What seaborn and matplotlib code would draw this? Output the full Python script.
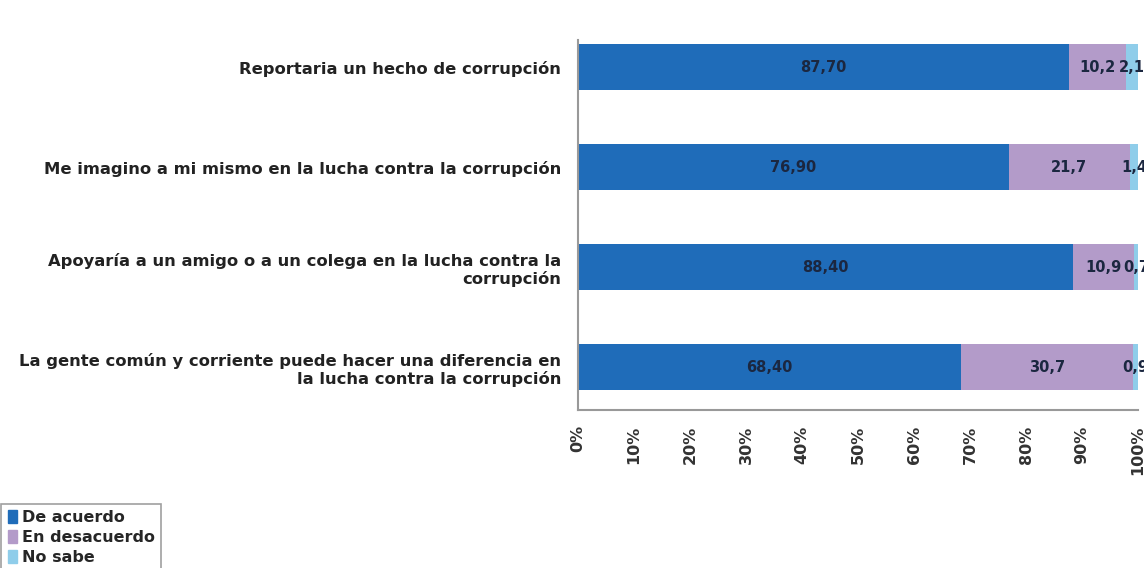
import matplotlib
matplotlib.use("Agg")
import matplotlib.pyplot as plt
import matplotlib.patches as mpatches
import pandas as pd
import seaborn as sns

# Data
categories = [
    "Reportaria un hecho de corrupción",
    "Me imagino a mi mismo en la lucha contra la corrupción",
    "Apoyaría a un amigo o a un colega en la lucha contra la\ncorrupción",
    "La gente común y corriente puede hacer una diferencia en\nla lucha contra la corrupción",
]
de_acuerdo = [87.70, 76.90, 88.40, 68.40]
en_desacuerdo = [10.2, 21.7, 10.9, 30.7]
no_sabe = [2.1, 1.4, 0.7, 0.9]
series_names = ["De acuerdo", "En desacuerdo", "No sabe"]
xtick_labels = [f"{v}%" for v in range(0, 101, 10)]

colors = ["#1f6cb9", "#b39bc9", "#8fcdea"]

df = pd.DataFrame({"cat": categories, "a": de_acuerdo, "b": en_desacuerdo, "c": no_sabe})
df["ab"] = df["a"] + df["b"]
df["abc"] = df["ab"] + df["c"]

sns.set_style("white")
plt.rcParams["font.family"] = ["DejaVu Sans"]

fig = plt.figure(figsize=(11.44, 5.68), dpi=100)
ax = fig.add_axes([578 / 1144, 1 - 410 / 568, 560 / 1144, 370 / 568])

# stacked bars: draw the cumulative totals back to front
bar_kw = dict(y="cat", order=categories, width=0.46, orient="h", ax=ax,
              saturation=1, edgecolor="none")
sns.barplot(data=df, x="abc", color=colors[2], **bar_kw)
sns.barplot(data=df, x="ab", color=colors[1], **bar_kw)
sns.barplot(data=df, x="a", color=colors[0], **bar_kw)

lab_kw = dict(ha="center", va="center", fontsize=10.5, fontweight="bold", color="#1b2740", clip_on=False)
for i, row in df.iterrows():
    ax.text(row["a"] / 2, i, f"{row['a']:.2f}".replace(".", ","), **lab_kw)
    ax.text(row["a"] + row["b"] / 2, i, f"{row['b']:.1f}".replace(".", ","), **lab_kw)
    ax.text(row["ab"] + row["c"] / 2, i, f"{row['c']:.1f}".replace(".", ","), **lab_kw)

ax.set_xlim(0, 100)
ax.set_ylim(3.43, -0.27)
ax.set_xticks(range(0, 101, 10))
ax.set_xticklabels(xtick_labels, rotation=90, fontsize=11.5, fontweight="bold", color="#333333")
ax.set_yticks(range(len(categories)))
ax.set_yticklabels(categories, fontsize=11.8, fontweight="bold", color="#222222")
ax.set_yticks([0.5, 1.5, 2.5], minor=True)
ax.tick_params(axis="y", which="major", length=0, pad=12)
ax.tick_params(axis="y", which="minor", length=5, color="#999999", width=1.5, direction="out")
ax.tick_params(axis="x", length=5, color="#999999", width=1.5, direction="out", pad=6)
ax.set_xlabel("")
ax.set_ylabel("")

for side in ["top", "right"]:
    ax.spines[side].set_visible(False)
for side in ["left", "bottom"]:
    ax.spines[side].set_color("#999999")
    ax.spines[side].set_linewidth(1.5)

handles = [mpatches.Patch(color=c, label=n) for c, n in zip(colors, series_names)]
leg = fig.legend(handles=handles, loc="lower left", bbox_to_anchor=(-0.006, -0.02),
                 frameon=True, fancybox=False, handlelength=0.6, handleheight=0.9,
                 handletextpad=0.3, borderpad=0.4, labelspacing=0.3,
                 prop={"weight": "bold", "size": 11.5})
leg.get_frame().set_edgecolor("#888888")
leg.get_frame().set_linewidth(1.2)

fig.savefig("out.png", dpi=100)
